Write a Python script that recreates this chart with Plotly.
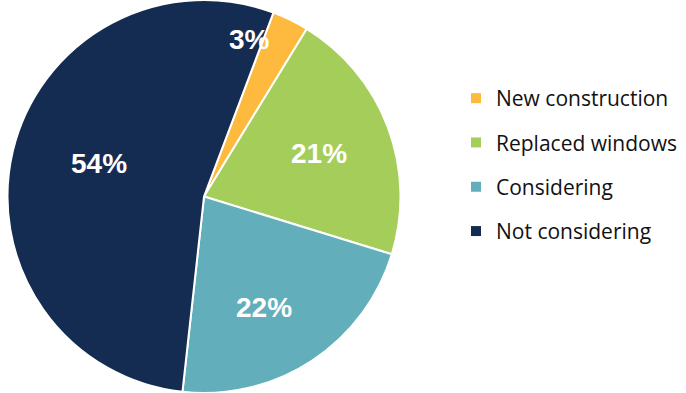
import math
import plotly.graph_objects as go

categories = ["New construction", "Replaced windows", "Considering", "Not considering"]
values = [3, 21, 22, 54]
colors = ["#FDBA3F", "#A5CD5A", "#62AFBB", "#152C52"]
label_texts = ["3%", "21%", "22%", "54%"]

# style
W, H = 686, 393
rotation = 20.7
label_rfrac = [0.83, 0.625, 0.643, 0.56]
label_dang = [-10, 0, 4.7, 3.7]
pie_x = [7.5 / W, 400.5 / W]

fig = go.Figure()
fig.add_trace(go.Pie(
    labels=categories, values=values, sort=False, direction="clockwise",
    rotation=rotation, marker=dict(colors=colors, line=dict(color="white", width=2)),
    textinfo="none", hoverinfo="label+percent", showlegend=False,
    domain=dict(x=pie_x, y=[0, 1]),
))

# legend entries (one group per category, for spacing)
for c, col in zip(categories, colors):
    fig.add_trace(go.Scatter(
        x=[None], y=[None], mode="markers", name=c, legendgroup=c,
        marker=dict(symbol="square", size=10, color=col),
    ))

# labels placed from the pie geometry
cx = (pie_x[0] + pie_x[1]) / 2 * W
cy = H / 2
R = min((pie_x[1] - pie_x[0]) * W, H) / 2
total = sum(values)
cum = 0
for v, t, rf, da in zip(values, label_texts, label_rfrac, label_dang):
    mid = rotation + (cum + v / 2) / total * 360 + da
    cum += v
    a = math.radians(mid)
    px = cx + rf * R * math.sin(a)
    py = cy - rf * R * math.cos(a)
    fig.add_annotation(x=px / W, y=1 - py / H, xref="paper", yref="paper",
                       xanchor="center", yanchor="middle",
                       text=t, showarrow=False,
                       font=dict(family="Liberation Sans, Arial", size=28, color="white", weight="bold"))

fig.update_layout(
    width=W, height=H, margin=dict(l=0, r=0, t=0, b=0, autoexpand=False),
    paper_bgcolor="white", plot_bgcolor="white",
    xaxis=dict(visible=False), yaxis=dict(visible=False),
    legend=dict(x=456 / W, y=1 - 78 / H, xanchor="left", yanchor="top",
                traceorder="grouped", tracegroupgap=14, itemwidth=30,
                font=dict(family="Open Sans", size=21, color="#111111"),
                bgcolor="rgba(0,0,0,0)"),
    showlegend=True,
)
fig.write_html("out.html")
